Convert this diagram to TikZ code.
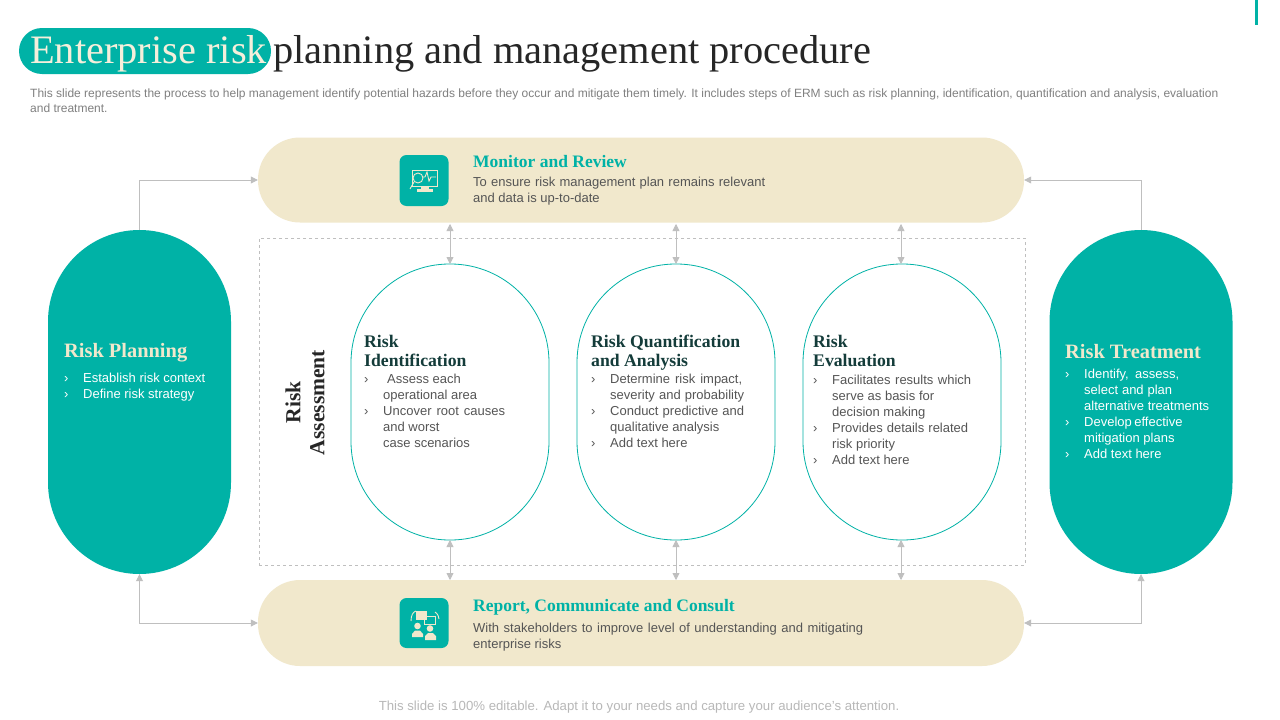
\documentclass[tikz,border=0pt]{standalone}
\usepackage{fontspec}
\setmainfont{Liberation Sans}
\newfontfamily\serifhead{Liberation Serif}
\usetikzlibrary{arrows.meta}
\definecolor{teal1}{HTML}{00B2A6}
\definecolor{beige1}{HTML}{F1E8CC}
\definecolor{dark1}{HTML}{143C3A}
\definecolor{body1}{HTML}{555555}
\definecolor{light1}{HTML}{F1E8CC}
\definecolor{conn1}{HTML}{BFBFBF}
\newcommand{\bul}{\makebox[19pt][l]{›}}
\newcommand{\cont}{\hspace*{19pt}}
\newcommand{\jl}[2]{\makebox[#1pt][s]{#2}}
\tikzset{
 x=1pt,y=-1pt,
 lane/.style={fill=beige1,draw=none,rounded corners=42pt,minimum width=766pt,minimum height=85pt,inner sep=0},
 sidepill/.style={fill=teal1,draw=none,rounded corners=91.5pt,minimum width=183pt,minimum height=344pt,inner sep=0},
 oval/.style={fill=white,draw=teal1,line width=0.8pt,rounded corners=98.5pt,minimum width=198pt,minimum height=276pt,inner sep=0},
 conn/.style={draw=conn1,line width=0.8pt},
 arr/.style={conn,{Triangle[length=7pt,width=7pt]}-{Triangle[length=7pt,width=7pt]}},
 arrone/.style={conn,-{Triangle[length=7pt,width=7pt]}},
 txt/.style={anchor=north west,inner sep=0,align=left},
 bodytxt/.style={txt,text=body1,font=\fontsize{13}{16}\selectfont},
 whitetxt/.style={txt,text=white,font=\fontsize{13}{16}\selectfont},
 headdark/.style={txt,text=dark1,font=\serifhead\bfseries\fontsize{17.7}{19}\selectfont},
 headteal/.style={txt,text=teal1,font=\serifhead\bfseries\fontsize{17.5}{19}\selectfont},
 headlight/.style={txt,text=light1,font=\serifhead\bfseries\fontsize{20.4}{22}\selectfont},
 iconbox/.style={fill=teal1,draw=none,rounded corners=7pt,minimum width=49pt,minimum height=51pt,inner sep=0},
 iconline/.style={draw=beige1,line width=0.9pt},
 iconfill/.style={fill=beige1,draw=none},
}
\begin{document}
\begin{tikzpicture}
\useasboundingbox (0,0) rectangle (1280,720);
\fill[white] (0,0) rectangle (1280,720);
\fill[teal1] (1255,0) rectangle (1257.5,25);
% title
\node[fill=teal1,rounded corners=23pt,minimum width=252pt,minimum height=46pt,inner sep=0] (titlepill) at (145,51) {};
\node[anchor=base west,inner sep=0,text=light1!70!white,font=\serifhead\fontsize{40.4}{42}\selectfont] (titlea) at (30,63) {Enterprise risk};
\node[anchor=base west,inner sep=0,text=black!85,font=\serifhead\fontsize{40.4}{42}\selectfont] (titleb) at (273,63) {planning and management procedure};
\node[txt,text=black!50,font=\fontsize{12}{15}\selectfont] (desc) at (30,88.5) {This slide represents the process to help management identify potential hazards before they occur and mitigate them timely. It includes steps of ERM such as risk planning, identification, quantification and analysis, evaluation\\and treatment.};
% dashed frame
\node[draw=conn1,dashed,line width=0.7pt,minimum width=766pt,minimum height=327pt,inner sep=0] (frame) at (642,401.5) {};
% lanes
\node[lane] (monitor) at (641,180) {};
\node[lane,minimum height=86pt] (report) at (641,623) {};
% side pills
\node[sidepill] (planning) at (139.5,402) {};
\node[sidepill] (treatment) at (1141,402) {};
% ovals
\node[oval] (ident) at (450,402) {};
\node[oval] (quant) at (676,402) {};
\node[oval] (eval) at (902,402) {};
% connectors
\draw[arrone] (planning.north) |- (monitor.west);
\draw[arrone] (treatment.north) |- (monitor.east);
\draw[arr] (planning.south) |- (report.west);
\draw[arr] (treatment.south) |- (report.east);
\foreach \o/\xx in {ident/450,quant/676,eval/901}{
 \coordinate (t\o) at (\xx,224);
 \coordinate (b\o) at (\xx,580);
 \draw[arr] (t\o) -- (\xx,264);
 \draw[arr] (\xx,540) -- (b\o);
}
% monitor text
\node[iconbox] (icona) at (424,180.5) {};
\node[headteal] (monh) at (473,155) {Monitor and Review};
\node[bodytxt] (mont) at (473,176.5) {\jl{292}{To ensure risk management plan remains relevant}\\and data is up-to-date};
% report text
\node[iconbox,minimum height=50pt] (iconb) at (424,623) {};
\node[headteal] (reph) at (473,599) {Report, Communicate and Consult};
\node[bodytxt] (rept) at (473,622.5) {\jl{390}{With stakeholders to improve level of understanding and mitigating}\\enterprise risks};
% icon a: monitor
\draw[iconline] (412,170) rectangle (437,186);
\draw[iconline] (422,177) -- (425,177) -- (427,172) -- (429,181) -- (431,177) -- (436,177);
\draw[iconline] (418,178) circle (5pt);
\draw[iconline] (414,182) -- (410,189);
\fill[beige1] (421,186) rectangle (429,189);
\fill[beige1] (417,189) rectangle (433,192) ;
% icon b: people
\fill[beige1] (416,611) rectangle (427,620);
\draw[iconline] (424,616) rectangle (435,624);
\draw[iconline] (411,621) .. controls (411,615) and (413,612) .. (416,611);
\draw[iconline] (435,612) .. controls (438,614) and (439,617) .. (439,619);
\fill[beige1] (417.5,626) circle (3.3pt);
\fill[beige1] (430,628.5) circle (3.3pt);
\fill[beige1] (412,637) -- (412,634) -- (415,630.5) -- (420,630.5) -- (423,634) -- (423,637) -- cycle;
\fill[beige1] (425,640) -- (425,636) -- (428,633) -- (433,633) -- (436,636) -- (436,640) -- cycle;
% risk assessment
\node[rotate=90,align=center,inner sep=0,text=black!85,font=\serifhead\bfseries\fontsize{21.5}{24}\selectfont] (assess) at (305,402.5) {Risk\\Assessment};
% left pill text
\node[headlight] (planh) at (64,343) {Risk Planning};
\node[whitetxt] (plant) at (64,373) {\bul Establish risk context\\\bul Define risk strategy};
% right pill
\node[headlight] (treath) at (1065,344) {Risk Treatment};
\node[whitetxt] (treatt) at (1065,369) {\bul\jl{95}{Identify, assess,}\\\cont\jl{88}{select and plan}\\\cont alternative treatments\\\bul\jl{98}{Develop effective}\\\cont mitigation plans\\\bul Add text here};
% ident
\node[headdark] (idh) at (364,335) {Risk\\Identification};
\node[bodytxt] (idt) at (364,374) {\bul\hspace*{4pt}Assess each\\\cont operational area\\\bul\jl{122}{Uncover root causes}\\\cont and worst\\\cont case scenarios};
% quant
\node[headdark] (qh) at (591,335) {Risk Quantification\\and Analysis};
\node[bodytxt] (qt) at (591,374) {\bul\jl{132}{Determine risk impact,}\\\cont\jl{134}{severity and probability}\\\bul\jl{134}{Conduct predictive and}\\\cont qualitative analysis\\\bul Add text here};
% eval
\node[headdark] (eh) at (813,335) {Risk\\Evaluation};
\node[bodytxt] (et) at (813,375) {\bul\jl{139}{Facilitates results which}\\\cont\jl{102}{serve as basis for}\\\cont decision making\\\bul\jl{136}{Provides details related}\\\cont risk priority\\\bul Add text here};
% footer
\node[inner sep=0,text=black!28,font=\fontsize{13.2}{14}\selectfont] (foot) at (639,707) {This slide is 100\% editable. Adapt it to your needs and capture your audience’s attention.};
\end{tikzpicture}
\end{document}
